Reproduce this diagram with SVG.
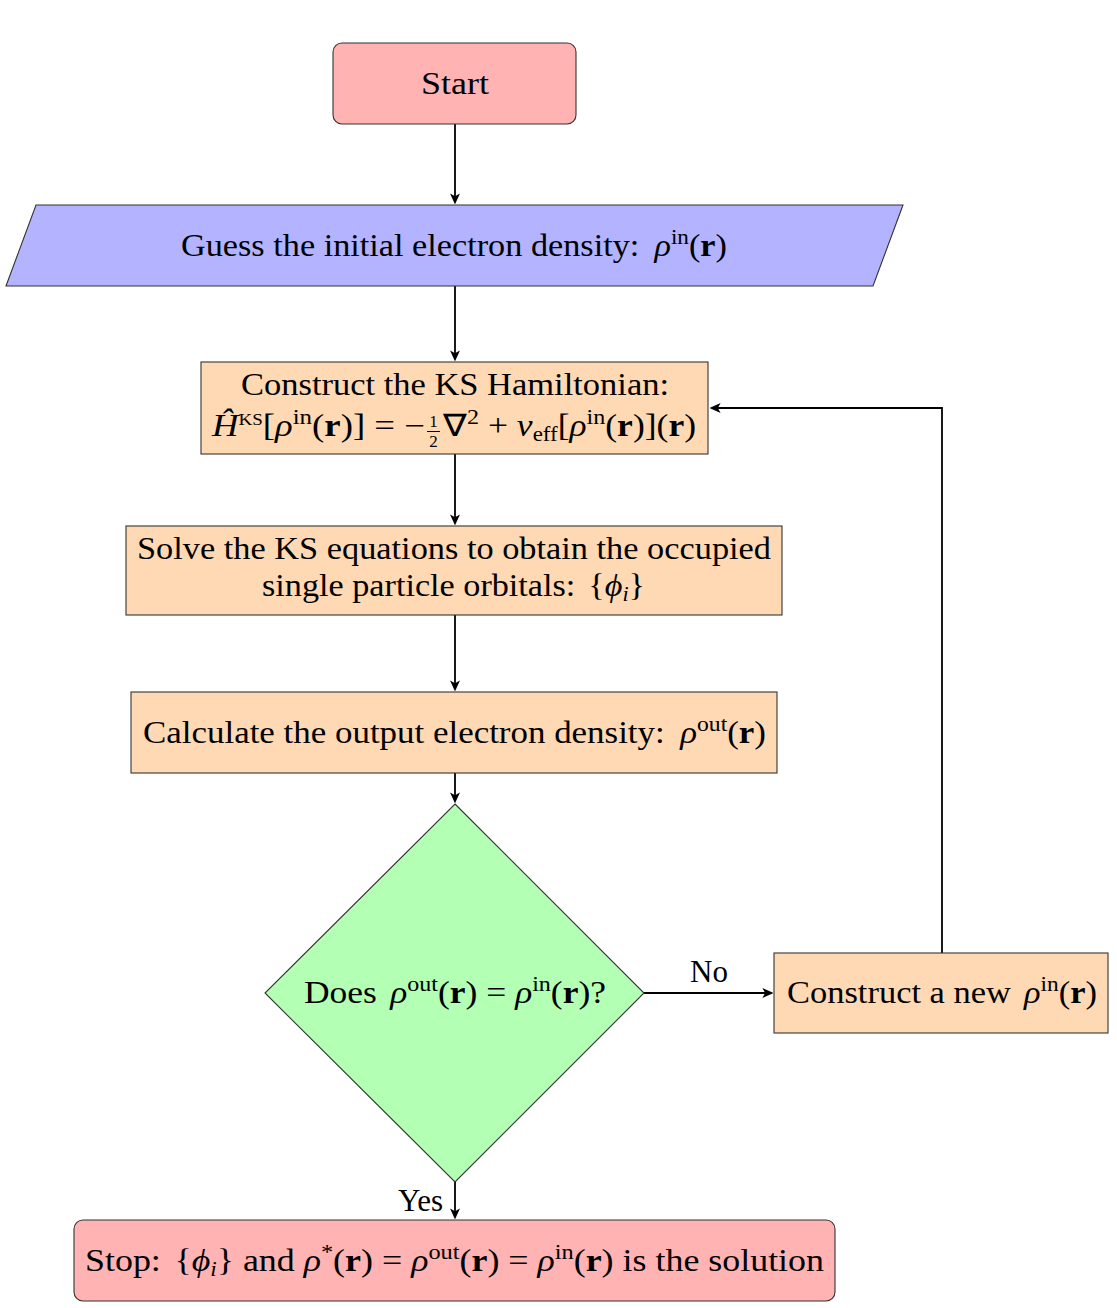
<svg xmlns="http://www.w3.org/2000/svg" width="1117" height="1308" viewBox="0 0 1117 1308">
<style>
.t{font-family:"Liberation Serif","Times New Roman",serif;font-size:31px;fill:#000}
.i{font-style:italic}
.b{font-weight:bold}
.s{font-size:21px}
.k{font-size:16px}
.f{font-size:20px}
.fr{font-family:"Liberation Serif","Times New Roman",serif;font-size:17px;fill:#000}
.box{stroke:#333;stroke-width:1.1}
.red{fill:#ffb3b3}
.blue{fill:#b3b3ff}
.org{fill:#ffd9b3}
.grn{fill:#b3ffb3}
.c{fill:none;stroke:#000;stroke-width:1.8}
</style>
<defs>
<marker id="ah" viewBox="0 0 10 10" markerUnits="userSpaceOnUse" markerWidth="11" markerHeight="11" refX="6" refY="5" orient="auto">
<path d="M0,0.5 L10,5 L0,9.5 L2.5,5 z" fill="#000"/>
</marker>
</defs>
<rect width="1117" height="1308" fill="#fff"/>
<g id="connectors">
<line class="c" x1="455" y1="124" x2="455" y2="200" marker-end="url(#ah)"/>
<line class="c" x1="455" y1="286" x2="455" y2="357" marker-end="url(#ah)"/>
<line class="c" x1="455" y1="454" x2="455" y2="521" marker-end="url(#ah)"/>
<line class="c" x1="455" y1="615" x2="455" y2="687" marker-end="url(#ah)"/>
<line class="c" x1="455" y1="773" x2="455" y2="799" marker-end="url(#ah)"/>
<line class="c" x1="644" y1="993" x2="769" y2="993" marker-end="url(#ah)"/>
<path class="c" d="M942,953 V408 H714" marker-end="url(#ah)"/>
<line class="c" x1="455" y1="1182" x2="455" y2="1215" marker-end="url(#ah)"/>
<text class="t" x="709" y="982" text-anchor="middle">No</text>
<text class="t" x="443" y="1211" text-anchor="end">Yes</text>
</g>
<g id="start">
<rect class="box red" x="333" y="43" width="243" height="81" rx="9"/>
<text class="t" x="455" y="94" text-anchor="middle" textLength="68" lengthAdjust="spacingAndGlyphs">Start</text>
</g>
<g id="guess">
<polygon class="box blue" points="36,205 903,205 873,286 6,286"/>
<text class="t" x="181" y="256" textLength="546" lengthAdjust="spacingAndGlyphs">Guess the initial electron density: <tspan class="i" dx="6">ρ</tspan><tspan class="s" dy="-12">in</tspan><tspan dy="12">(</tspan><tspan class="b">r</tspan>)</text>
</g>
<g id="hamiltonian">
<rect class="box org" x="201" y="362" width="507" height="92"/>
<text class="t" x="241" y="395" textLength="428" lengthAdjust="spacingAndGlyphs">Construct the KS Hamiltonian:</text>
<text class="t" x="212" y="436" textLength="213" lengthAdjust="spacingAndGlyphs"><tspan class="i">Ĥ</tspan><tspan class="k" dy="-11">KS</tspan><tspan dy="11">[</tspan><tspan class="i">ρ</tspan><tspan class="s" dy="-12">in</tspan><tspan dy="12">(</tspan><tspan class="b">r</tspan>)] = −</text>
<text class="fr" x="433.5" y="427" text-anchor="middle">1</text>
<line x1="427" y1="431.5" x2="440" y2="431.5" stroke="#000" stroke-width="1"/>
<text class="fr" x="433.5" y="447" text-anchor="middle">2</text>
<text class="t" x="443" y="436" textLength="253" lengthAdjust="spacingAndGlyphs">∇<tspan class="s" dy="-12">2</tspan><tspan dy="12"> + </tspan><tspan class="i">v</tspan><tspan class="f" dy="5">eff</tspan><tspan dy="-5">[</tspan><tspan class="i">ρ</tspan><tspan class="s" dy="-12">in</tspan><tspan dy="12">(</tspan><tspan class="b">r</tspan>)](<tspan class="b">r</tspan>)</text>
</g>
<g id="solve">
<rect class="box org" x="126" y="526" width="656" height="89"/>
<text class="t" x="137" y="559" textLength="634" lengthAdjust="spacingAndGlyphs">Solve the KS equations to obtain the occupied</text>
<text class="t" x="262" y="596" textLength="383" lengthAdjust="spacingAndGlyphs">single particle orbitals: <tspan dx="4">{</tspan><tspan class="i">ϕ</tspan><tspan class="i f" dy="5">i</tspan><tspan dy="-5">}</tspan></text>
</g>
<g id="calculate">
<rect class="box org" x="131" y="692" width="646" height="81"/>
<text class="t" x="143" y="743" textLength="623" lengthAdjust="spacingAndGlyphs">Calculate the output electron density: <tspan class="i" dx="6">ρ</tspan><tspan class="s" dy="-12">out</tspan><tspan dy="12">(</tspan><tspan class="b">r</tspan>)</text>
</g>
<g id="decision">
<polygon class="box grn" points="455,804 644,993 455,1182 265,993"/>
<text class="t" x="304" y="1003" textLength="302" lengthAdjust="spacingAndGlyphs">Does <tspan class="i" dx="4">ρ</tspan><tspan class="s" dy="-12">out</tspan><tspan dy="12">(</tspan><tspan class="b">r</tspan>) = <tspan class="i">ρ</tspan><tspan class="s" dy="-12">in</tspan><tspan dy="12">(</tspan><tspan class="b">r</tspan>)?</text>
</g>
<g id="newdensity">
<rect class="box org" x="774" y="953" width="334" height="80"/>
<text class="t" x="787" y="1003" textLength="310" lengthAdjust="spacingAndGlyphs">Construct a new <tspan class="i" dx="4">ρ</tspan><tspan class="s" dy="-12">in</tspan><tspan dy="12">(</tspan><tspan class="b">r</tspan>)</text>
</g>
<g id="stop">
<rect class="box red" x="74" y="1220" width="761" height="81" rx="9"/>
<text class="t" x="85" y="1271" textLength="739" lengthAdjust="spacingAndGlyphs">Stop: <tspan dx="4">{</tspan><tspan class="i">ϕ</tspan><tspan class="i f" dy="5">i</tspan><tspan dy="-5">} and </tspan><tspan class="i">ρ</tspan><tspan class="s" dy="-12">*</tspan><tspan dy="12">(</tspan><tspan class="b">r</tspan>) = <tspan class="i">ρ</tspan><tspan class="s" dy="-12">out</tspan><tspan dy="12">(</tspan><tspan class="b">r</tspan>) = <tspan class="i">ρ</tspan><tspan class="s" dy="-12">in</tspan><tspan dy="12">(</tspan><tspan class="b">r</tspan>) is the solution</text>
</g>
</svg>
